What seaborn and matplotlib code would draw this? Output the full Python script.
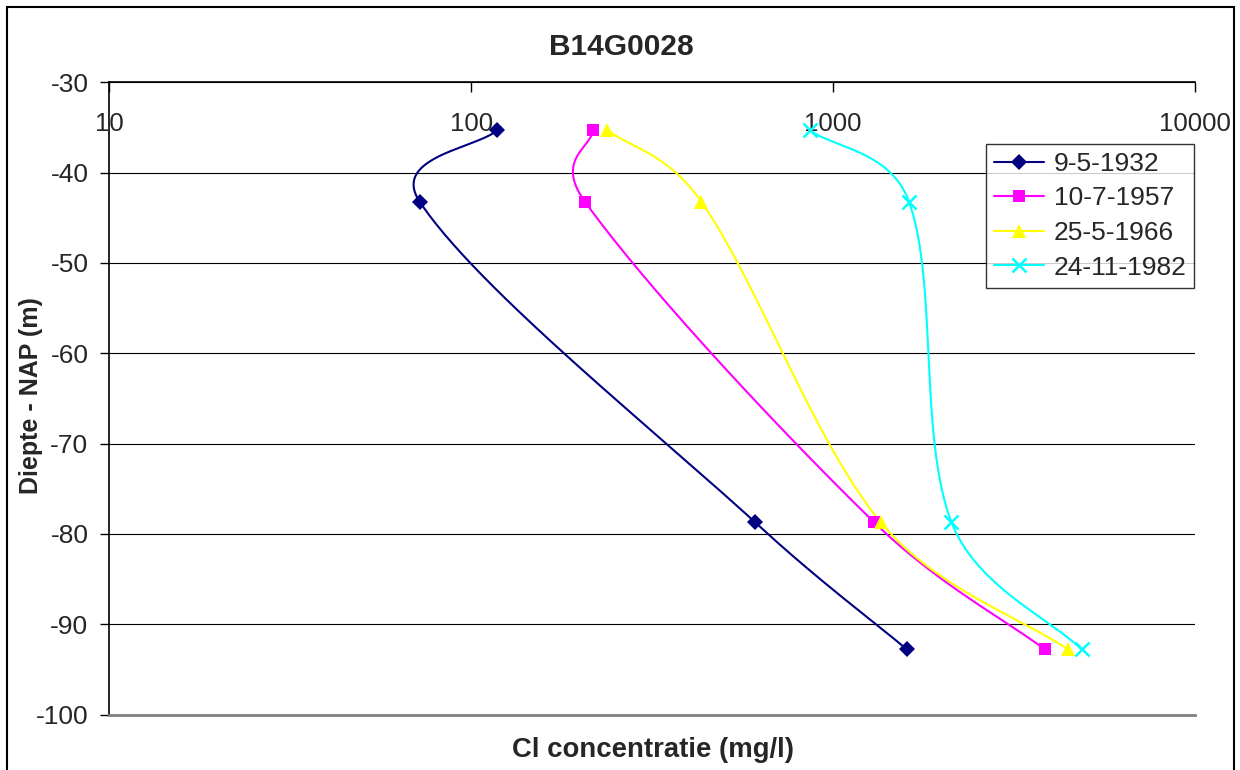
import numpy as np
import pandas as pd
import matplotlib
matplotlib.use("Agg")
import matplotlib.pyplot as plt
from matplotlib.lines import Line2D
from matplotlib.patches import Rectangle
import seaborn as sns

# ---- data ----
depth = [-35.3, -43.2, -78.7, -92.8]
series_names = ["9-5-1932", "10-7-1957", "25-5-1966", "24-11-1982"]
cl_1932 = [118, 72, 608, 1600]
cl_1957 = [217, 206, 1297, 3850]
cl_1966 = [238, 432, 1353, 4460]
cl_1982 = [861, 1620, 2123, 4860]
x_ticks = [10, 100, 1000, 10000]
y_ticks = [-100, -90, -80, -70, -60, -50, -40, -30]

colors = ["#000080", "#FF00FF", "#FFFF00", "#00FFFF"]
markers = ["D", "s", "^", "x"]
msizes = [8.5, 8.5, 10.5, 9.5]

sns.set_style("white")
plt.rcParams["font.family"] = ["Liberation Sans", "DejaVu Sans"]
plt.rcParams["axes.unicode_minus"] = False

values = [cl_1932, cl_1957, cl_1966, cl_1982]
df = pd.concat(
    [pd.DataFrame({"cl": v, "depth": depth, "serie": n}) for v, n in zip(values, series_names)],
    ignore_index=True,
)

# approximate screen scale (px per decade, px per depth unit) for smoothing
SX, SY = 361.6, 9.031


def smooth(xs, ys, n=60):
    """Excel-like smoothed line: Bezier through the points, handles computed in screen space."""
    P = np.column_stack([np.log10(xs) * SX, np.asarray(ys, float) * SY])
    m = len(P)
    d = np.linalg.norm(np.diff(P, axis=0), axis=1)
    out = []
    for i in range(m - 1):
        p1, p2 = P[i], P[i + 1]
        p0 = P[max(i - 1, 0)]
        p3 = P[min(i + 2, m - 1)]
        dprev = d[i - 1] if i > 0 else 0.0
        dnext = d[i + 1] if i + 2 < m else 0.0
        f1 = 0.5 / 6.0 + 0.5 * (d[i] / (dprev + d[i])) / 3.0
        f2 = 0.5 / 6.0 + 0.5 * (d[i] / (d[i] + dnext)) / 3.0
        c1 = p1 + (p2 - p0) * f1
        c2 = p2 - (p3 - p1) * f2
        t = np.linspace(0, 1, n)[:, None]
        seg = ((1 - t) ** 3) * p1 + 3 * ((1 - t) ** 2) * t * c1 + 3 * (1 - t) * t ** 2 * c2 + t ** 3 * p2
        out.append(seg if i == 0 else seg[1:])
    S = np.vstack(out)
    return 10 ** (S[:, 0] / SX), S[:, 1] / SY


fig = plt.figure(figsize=(12.4, 7.7), dpi=100)
ax = fig.add_axes([109.3 / 1240, 1 - 714.5 / 770, (1195 - 109.3) / 1240, (714.5 - 82.3) / 770])

for name, c, mk, ms in zip(series_names, colors, markers, msizes):
    sub = df[df["serie"] == name]
    sx, sy = smooth(sub["cl"].values, sub["depth"].values)
    sm = pd.DataFrame({"cl": sx, "depth": sy})
    sns.lineplot(data=sm, x="cl", y="depth", sort=False, estimator=None, ax=ax,
                 color=c, lw=1.5, zorder=3)
    if mk == "x":
        ax.plot(sub["cl"], sub["depth"], ls="none", marker=mk, ms=ms, mew=1.8, color=c, zorder=4)
    else:
        ax.plot(sub["cl"], sub["depth"], ls="none", marker=mk, ms=ms, mew=0, color=c, zorder=4)

ax.set_xscale("log")
ax.set_xlim(10, 10000)
ax.set_ylim(-100, -30)
ax.set_xticks(x_ticks)
ax.set_xticklabels([str(t) for t in x_ticks])
ax.xaxis.set_minor_locator(matplotlib.ticker.NullLocator())
ax.set_yticks(y_ticks)
ax.set_yticklabels([str(t) for t in y_ticks])
ax.set_xlabel("")
ax.set_ylabel("")

ax.tick_params(axis="x", which="major", top=True, labeltop=True, bottom=False, labelbottom=False,
               direction="in", length=7, width=1, color="black", pad=-39, labelsize=18.5)
ax.tick_params(axis="y", which="major", left=True, direction="out", length=6.5, width=1,
               color="black", pad=8.5, labelsize=19)

ax.grid(axis="y", color="black", lw=0.8)
ax.grid(axis="x", visible=False)
ax.set_axisbelow(True)
for s in ["top", "left"]:
    ax.spines[s].set_color("black")
    ax.spines[s].set_linewidth(1.2)
ax.spines["bottom"].set_color("#808080")
ax.spines["bottom"].set_linewidth(2)
ax.spines["right"].set_visible(False)

handles = []
for name, c, mk, ms in zip(series_names, colors, markers, msizes):
    if mk == "x":
        h = Line2D([], [], color=c, lw=1.5, marker=mk, ms=ms, mew=1.8)
    else:
        h = Line2D([], [], color=c, lw=1.5, marker=mk, ms=ms, mew=0)
    handles.append(h)
leg = ax.legend(handles, series_names, loc="upper right",
                bbox_to_anchor=(1194.3 / 1240, 1 - 144 / 770), bbox_transform=fig.transFigure,
                borderaxespad=0, frameon=True, fancybox=False, fontsize=19,
                handlelength=1.9, handletextpad=0.35, borderpad=0.3, labelspacing=0.4)
leg.get_frame().set_edgecolor("black")
leg.get_frame().set_linewidth(1.0)

fig.text(621 / 1240, 1 - 55 / 770, "B14G0028", ha="center", va="baseline",
         fontsize=21.5, fontweight="bold")
fig.text(653 / 1240, 1 - 757 / 770, "Cl concentratie (mg/l)", ha="center", va="baseline",
         fontsize=19.8, fontweight="bold")
fig.text(31 / 1240, 1 - 396 / 770, "Diepte - NAP (m)", ha="center", va="center",
         rotation=90, fontsize=18, fontweight="bold")

fig.patches.append(Rectangle((7 / 1240, -0.05), (1234 - 7) / 1240, 1 - 7 / 770 + 0.05,
                             transform=fig.transFigure, fill=False, edgecolor="black",
                             lw=1.5, zorder=10))

fig.savefig("out.png", dpi=100)
